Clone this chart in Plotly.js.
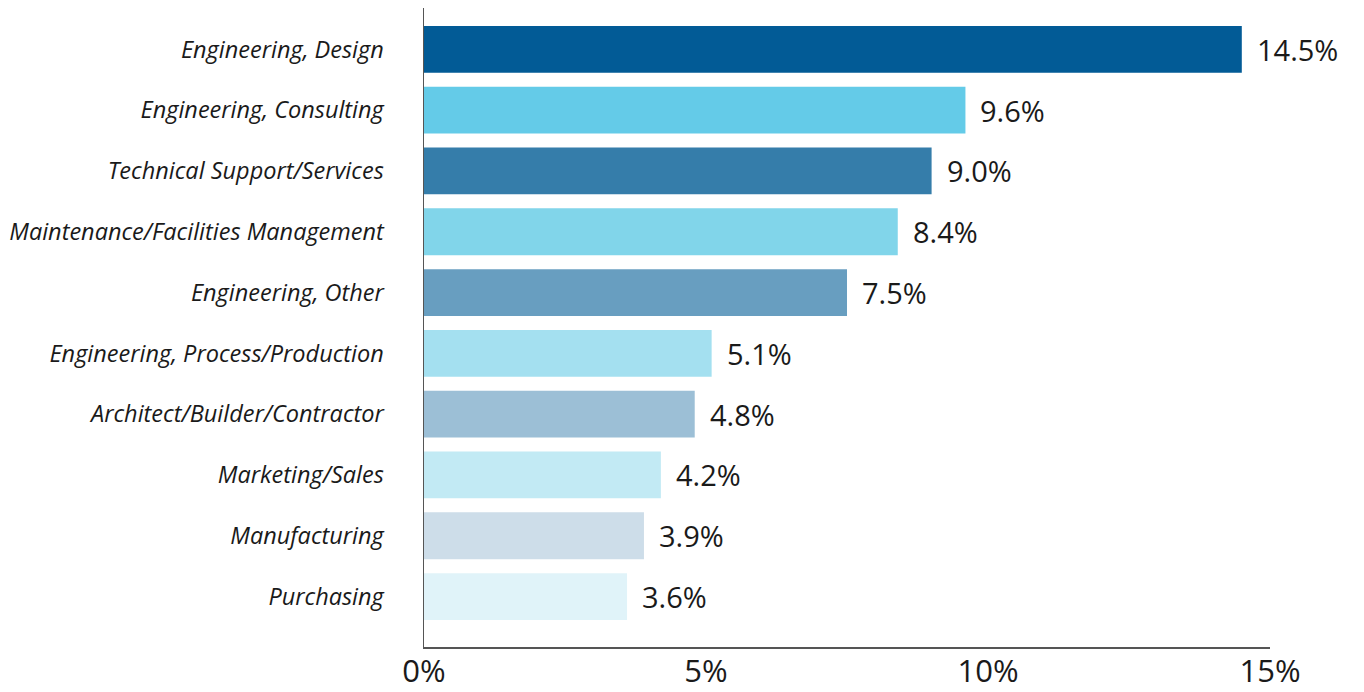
<!DOCTYPE html>
<html><head><meta charset="utf-8">
<script src="https://cdn.plot.ly/plotly-3.0.1.min.js"></script>
<style>html,body{margin:0;padding:0;background:#fff}#chart{width:1364px;height:692px}</style>
</head><body><div id="chart"></div>
<script>
const categories = ["Engineering, Design","Engineering, Consulting","Technical Support/Services","Maintenance/Facilities Management","Engineering, Other","Engineering, Process/Production","Architect/Builder/Contractor","Marketing/Sales","Manufacturing","Purchasing"];
const values = [14.5, 9.6, 9.0, 8.4, 7.5, 5.1, 4.8, 4.2, 3.9, 3.6];
const valueLabels = ["14.5%","9.6%","9.0%","8.4%","7.5%","5.1%","4.8%","4.2%","3.9%","3.6%"];
const barColors = ["#025B96","#64CBE8","#357DAA","#81D5EA","#689EC0","#A4E0F0","#9CBFD6","#C2EAF4","#CDDDE9","#E0F3F9"];
const tickVals = [0, 5, 10, 15];
const tickText = ["0%","5%","10%","15%"];

const trace = {
  type: 'bar', orientation: 'h',
  x: values, y: categories,
  marker: {color: barColors},
  hoverinfo: 'none'
};
const annotations = values.map((v, i) => ({
  x: v, y: categories[i], xref: 'x', yref: 'y',
  text: valueLabels[i], showarrow: false, xanchor: 'left', xshift: 13,
  font: {family: 'Open Sans, sans-serif', size: 29, color: '#1a1a1a'}
}));
const layout = {
  width: 1364, height: 692,
  margin: {l: 424, r: 94, t: 8, b: 45},
  paper_bgcolor: '#fff', plot_bgcolor: '#fff',
  showlegend: false,
  bargap: 0.23,
  xaxis: {
    range: [0, 15], tickvals: tickVals, ticktext: tickText,
    showgrid: false, zeroline: false, showline: true, linecolor: '#555', linewidth: 1.5,
    ticks: '', ticklabelstandoff: -4,
    tickfont: {family: 'Open Sans, sans-serif', size: 31, color: '#1a1a1a'}
  },
  yaxis: {
    type: 'category', range: [9.83, -0.68],
    showgrid: false, zeroline: false, showline: true, linecolor: '#555', linewidth: 1.5,
    ticks: '', ticklabelstandoff: 34,
    tickfont: {family: 'Open Sans, sans-serif', size: 23.5, color: '#1a1a1a', style: 'italic'}
  },
  annotations: annotations
};
Plotly.newPlot('chart', [trace], layout, {staticPlot: true, displayModeBar: false});
</script></body></html>
